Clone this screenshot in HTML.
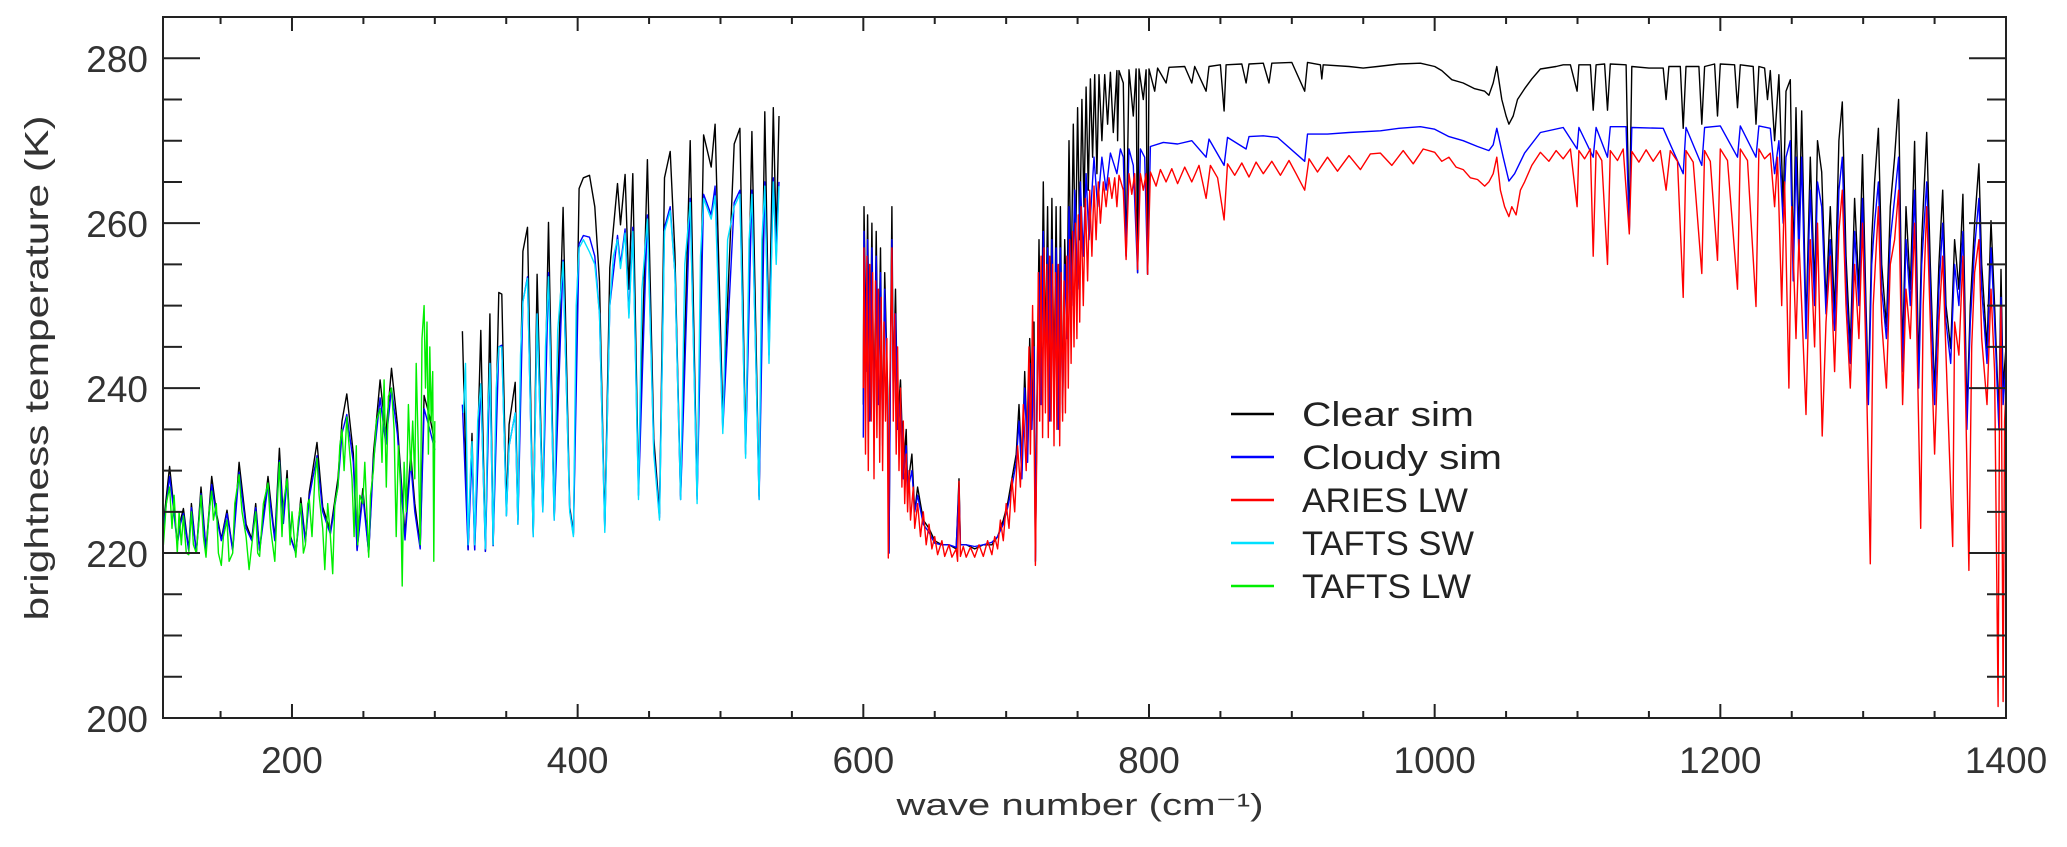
<!DOCTYPE html>
<html><head><meta charset="utf-8"><title>Brightness temperature spectra</title>
<style>
html,body{margin:0;padding:0;background:#fff;}
svg{display:block;font-family:"Liberation Sans",sans-serif;}
</style></head>
<body>
<svg id="chart" width="2067" height="847" viewBox="0 0 2067 847" xmlns="http://www.w3.org/2000/svg">
<rect x="0" y="0" width="2067" height="847" fill="#fff"/>
<g id="series"></g>
<g id="axes"></g>
<text x="1080" y="815" font-size="31" fill="#333" text-anchor="middle" textLength="367" lengthAdjust="spacingAndGlyphs">wave number (cm⁻¹)</text>
<text transform="translate(48,368) rotate(-90)" font-size="33" fill="#333" text-anchor="middle" textLength="505" lengthAdjust="spacingAndGlyphs">brightness temperature (K)</text>
<g id="legend"></g>
</svg>
<script>
const xTicksMajor = [200,400,600,800,1000,1200,1400];
const xTicksMinor = [150,250,300,350,450,500,550,650,700,750,850,900,950,1050,1100,1150,1250,1300,1350];
const yTicksMajor = [200,220,240,260,280];
const yTicksMinor = [205,210,215,225,230,235,245,250,255,265,270,275];
const legendLabels = ["Clear sim","Cloudy sim","ARIES LW","TAFTS SW","TAFTS LW"];
const legendColors = ["#000","#0000ff","#ff0000","#00e0ff","#00ee00"];

const clearSim = [[110,223.5],[114.3,230.5],[117,226],[119.7,221.3],[122,224],[124,225.4],[127.7,220.4],[129.6,226],[133,220],[136.3,228],[139.8,220.4],[143.8,229.3],[147,225],[150.5,221.7],[154.5,225.2],[158.5,220.4],[163,231],[167.9,223.5],[171.9,221.7],[174.6,226],[177.3,220.4],[183.2,229.3],[188,221.7],[191.2,232.7],[194,224],[196.6,230],[198.7,222.2],[202.7,220],[206.2,226.7],[209.4,221.5],[212.1,227.4],[217.5,233.4],[221.5,225.6],[226.9,222.6],[232.2,229.1],[235,236],[238.4,239.3],[242.9,232.1],[245.6,220.4],[249.6,227.8],[253.7,220],[257,232],[261.7,241],[265.7,234.3],[269.7,242.4],[273.8,235.6],[279.1,222.2],[283.1,232.1],[286,226],[289.8,220.9],[292.5,239.1],[296.5,236.5],[300,233.4],null,
[319.3,246.9],[323.3,220.4],[326,234.5],[327.9,220.4],[332.2,247],[335.4,220.2],[338.6,249],[340.8,220.9],[344.8,251.6],[346.9,251.4],[350.1,225.2],[352,235.6],[356.3,240.7],[358.2,224],[361.7,256.6],[364.9,259.5],[368.9,222.2],[371.6,253.8],[375.6,225.6],[379.6,260.1],[383.6,224.3],[389.8,261.9],[394.4,225.6],[397,222.4],[401,264.2],[404,265.5],[408.3,265.8],[412,262],[415.3,252.9],[419,223.1],[422.5,254.6],[427.9,264.8],[430,259.8],[433.2,265.9],[435.9,252],[438.6,266],[442.6,227.8],[448.8,267.7],[453.3,233.9],[457.3,224.8],[460.8,265.5],[464.8,268.7],[468.1,256.4],[472.1,226.9],[478.8,270],[483.6,226.9],[488.2,270.7],[493.5,266.8],[496.2,272],[501.6,236.5],[509.6,269.6],[513.6,271.5],[517.6,232.8],[522,271.1],[527,226.9],[531,273.5],[534,245],[537,274],[539,258],[541,273],null,
[600,238],[600.5,262],[602,245],[603,261],[604.5,238],[606,260],[607.5,236],[609,259],[610.5,240],[612,257],[613.5,234],[615,254],[617,240],[618,220],[619,245],[620,262],[621,240],[622.5,252],[624,236],[626,241],[628,230],[630,235],[631,228],[634,232],[636,225],[638,228],[642,224],[646,223],[650,221.5],[655,221],[660,221],[665,220.5],[667,229],[668,221],[672,221],[678,220.5],[684,221],[690,221],[694,222],[698,224],[701,226],[704,229],[707,232],[709,238],[711,230],[713,242],[715,232],[716.5,246],[718,236],[719.5,248],[720.5,219],[721.5,238],[723,258],[724.5,240],[726,265],[727.5,244],[729,262],[730.5,238],[732,263],[733.5,240],[735,262],[736.5,236],[738,262],[739.5,238],[741,258],[742.5,248],[744,270],[745.5,252],[747,272],[748.5,255],[750,274],[751.5,258],[753,275],[754.5,262],[756,276.5],[757.5,264],[759,277.5],[760.5,268],[762,278],[763.5,266],[765,278],[767,270],[769,278],[771,272],[773,278.3],[775,271],[777.5,278.5],[778,270],[779,278.5],[782,277],[784,256],[786,278.6],[789,273],[791,278.7],[792,254],[793,278.7],[796,275],[798,278.6],[799,253.8],[800,278.7],[804,276],[806,278.8],[812,277],[814,278.9],[825,279],[830,277],[832,279],[840,276],[842,279],[850,279.2],[852.6,273.6],[854,279.2],[865,279.3],[868,277],[870,279.3],[880,279.4],[884,277],[886,279.4],[900,279.5],[909,276],[911,279.5],[920,279.2],[921,277.5],[922,279.2],[940,279],[950,278.8],[960,279],[975,279.3],[990,279.4],[1000,279],[1005,278.5],[1012,277.4],[1020,277],[1028,276.3],[1035,276],[1038,275.5],[1041,277],[1043.5,279],[1047,275],[1050,273],[1052,272],[1055,273],[1058,275],[1063,276.3],[1068,277.5],[1074,278.7],[1085,279],[1090,279.2],[1095,279.2],[1099.7,276],[1101,279.2],[1109,279.2],[1111,273.7],[1113,279.2],[1119,279.3],[1121,273.7],[1123,279.3],[1134,279.2],[1136.3,259],[1138,279],[1150,278.8],[1160,278.8],[1162,275],[1164,279],[1172,279],[1174,271.5],[1176,279],[1185,279],[1187,272],[1189,279],[1196,279.3],[1198,273],[1200,279.3],[1210,279.2],[1212,274],[1214,279.2],[1223,279],[1225,272],[1227,279],[1231,278.8],[1233,275],[1235,278.5],[1238,270],[1241,278],[1244,262],[1246,276],[1249,277.4],[1251,255],[1253,274],[1255,258],[1257,273.6],[1260,247.5],[1263,268],[1266,252],[1268,270],[1271,266.2],[1274,250.2],[1277,262],[1280,249],[1283,270],[1285.4,274.7],[1288,256],[1291,244.8],[1294,263],[1297,252],[1299.5,268.3],[1302,250],[1303.7,239.5],[1306,258],[1308,265],[1310.7,271.5],[1313,255],[1316.3,247.5],[1319,262],[1322,268],[1324.8,275],[1327.6,243.8],[1330,262],[1333,252],[1336,269.9],[1338.8,242.2],[1341,258],[1344.5,271],[1347,255],[1350,239.5],[1353,255],[1355.7,264],[1358,250],[1361.3,244.8],[1364,258],[1367,252],[1369.8,263.5],[1372.6,236.8],[1375,250],[1378,260],[1381,267.2],[1383,255],[1386.7,244.8],[1389.5,260.3],[1392,250],[1395,236.3],[1396.5,254.4],[1398,240],[1400,245]];

const cloudySim = [[110,223],[114.3,229.3],[117,225.5],[119.7,221],[122,223.6],[124,224.8],[127.7,220.3],[129.6,225.5],[133,220],[136.3,227.2],[139.8,220.3],[143.8,228.3],[147,224.5],[150.5,221.5],[154.5,224.8],[158.5,220.3],[163,229.8],[167.9,223],[171.9,221.5],[174.6,225.5],[177.3,220.3],[183.2,228.3],[188,221.5],[191.2,231.2],[194,223.6],[196.6,229],[198.7,222],[202.7,220],[206.2,226],[209.4,221.3],[212.1,226.8],[217.5,231.8],[221.5,225],[226.9,222.3],[232.2,228.2],[235,234.5],[238.4,236.8],[242.9,231],[245.6,220.3],[249.6,227],[253.7,220],[257,231],[261.7,238.8],[265.7,233.2],[269.7,240],[273.8,234.4],[279.1,221.6],[283.1,231],[286,225],[289.8,220.5],[292.5,237.5],[296.5,235],[300,232.5],null,
[319.3,238],[323.3,220.4],[326,232],[327.9,220.4],[332.2,240.5],[335.4,220.2],[338.6,243],[340.8,220.9],[344.8,245],[346.9,245.2],[350.1,224.5],[352,233],[356.3,237],[358.2,223.5],[361.7,250.5],[364.9,253.5],[368.9,222],[371.6,249],[375.6,225],[379.6,254],[383.6,224],[389.8,255.5],[394.4,225.2],[397,222.2],[401,257.5],[404,258.5],[408.3,258.3],[412,256],[415.3,249],[419,222.8],[422.5,250],[427.9,258.5],[430,255],[433.2,259.3],[435.9,249],[438.6,259.5],[442.6,227],[448.8,261],[453.3,232.5],[457.3,224.3],[460.8,259.5],[464.8,262],[468.1,254],[472.1,226.5],[478.8,263],[483.6,226.5],[488.2,263.5],[493.5,261],[496.2,264.5],[501.6,235],[509.6,262.5],[513.6,264],[517.6,232],[522,264],[527,226.5],[531,265],[534,244],[537,265.5],[539,256],[541,265],null,
[600,234],[600.5,259],[602,242],[603,258],[604.5,236],[606,257],[607.5,234],[609,256],[610.5,238],[612,254],[613.5,233],[615,252],[617,238],[618,220],[619,243],[620,258],[621,238],[622.5,249],[624,235],[626,239],[628,229],[630,233],[631,227.5],[634,230],[636,225],[638,227],[642,223.5],[646,222.5],[650,221.2],[655,221],[660,221],[665,220.7],[667,228],[668,221],[672,221],[678,220.8],[684,221],[690,221.3],[694,222],[698,223.5],[701,225.5],[704,228],[707,231],[709,236],[711,229],[713,240],[715,231],[716.5,243],[718,235],[719.5,245],[720.5,219],[721.5,237],[723,254],[724.5,238],[726,259],[727.5,242],[729,257],[730.5,236],[732,258],[733.5,238],[735,257],[736.5,235],[738,257],[739.5,237],[741,255],[742.5,246],[744,262],[746,250],[748,264],[750,252],[752,265],[754,256],[756,266],[758,258],[761.5,268],[764,262],[767,268],[770,264],[773,268.5],[777.5,266],[780,269],[782,268],[784,256],[786,269],[789,267],[792,254],[794,269],[797,268],[799,253.8],[801,269.3],[810,269.8],[820,269.6],[830,270],[840,268],[842,270.2],[852.6,267],[855,270.4],[868,269],[870,270.5],[880,270.6],[890,270.4],[909,267.5],[911,270.8],[925,270.8],[940,271],[962,271.2],[975,271.5],[990,271.7],[1000,271.4],[1010,270.5],[1020,270],[1030,269.3],[1038,268.8],[1041,269.5],[1043.5,271.5],[1048,268],[1052,265.1],[1056,266],[1063,268.5],[1074,271],[1090,271.6],[1099.7,269],[1101,271.6],[1111,268],[1113,271.6],[1121,268],[1123,271.7],[1134,271.7],[1136.3,259],[1138,271.6],[1160,271.5],[1174,266],[1176,271.6],[1187,267],[1189,271.6],[1200,271.8],[1212,268],[1214,271.8],[1225,268],[1227,271.8],[1235,271.5],[1238,266],[1241,270],[1244,260],[1246,268],[1249,270],[1251,253],[1253,268],[1255,256],[1257,268],[1260,246],[1263,264],[1266,250],[1268,265],[1271,262],[1274,249],[1277,258],[1280,247],[1283,264],[1285.4,268],[1288,253],[1291,243],[1294,259],[1297,250],[1299.5,263],[1302,248],[1303.7,238],[1306,255],[1308,260],[1310.7,265],[1313,252],[1316.3,246],[1319,258],[1322,263],[1324.8,268],[1327.6,242],[1330,258],[1333,250],[1336,264],[1338.8,240],[1341,255],[1344.5,265],[1347,252],[1350,238],[1353,252],[1355.7,260],[1358,248],[1361.3,243],[1364,255],[1367,250],[1369.8,259],[1372.6,235],[1375,248],[1378,257],[1381,263],[1383,252],[1386.7,243],[1389.5,257],[1392,248],[1395,235],[1396.5,251],[1398,238],[1400,243]];

const ariesLW = [[600,240],[600.5,257],[601.5,232],[602.5,256],[603.5,230],[604.5,255],[605.5,236],[606.5,254],[607.5,229],[608.5,253],[609.5,234],[610.5,252],[611.5,231],[612.5,251],[613.5,230],[614.5,248],[615.5,236],[616.5,246],[617.5,219.4],[618.5,240],[619.5,250],[620,257],[621,236],[622,249],[623,232],[624,245],[625,230],[626,240],[627,228],[628,236],[629,226],[630,232],[631,225],[632,230],[633,224],[635,228],[636,223],[638,226],[640,222],[642,225],[644,221],[646,223.5],[648,220.5],[650,222],[652,219.8],[655,221.5],[657,219.6],[660,221],[662,219.5],[665,220.5],[666,219],[667,228.7],[668,219.6],[670,220.8],[672,219.5],[675,220.7],[678,219.5],[681,221],[684,219.6],[687,221.5],[690,219.8],[692,222],[694,220.5],[696,224],[698,221.5],[700,226],[702,223],[704,229],[706,225],[708,233],[710,228],[712,238],[714,230],[716,245],[717,232],[718.5,250],[719.5,236],[720.5,218.5],[721.5,234],[722.5,254],[723.5,236],[724.5,256],[725.5,234],[726.5,257],[727.5,237],[728.5,255],[729.5,234],[730.5,256],[731.5,236],[732.5,255],[733.5,233],[734.5,254],[735.5,235],[736.5,255],[737.5,233],[738.5,254],[739.5,236],[740.5,253],[741.5,237],[742.5,256],[743.5,240],[744.5,258],[745.5,243],[746.5,259],[747.5,245],[748.5,260],[749.5,246],[750.5,261],[751.5,248],[752.5,262],[754,250],[755.5,263],[757,253],[758.5,264],[760,256],[761.5,264.5],[763,258],[764.5,265],[766,260],[768,265],[770,262],[772,265.5],[774,263],[776,265.5],[777.5,262],[779,265.8],[782,264],[784,255.6],[786,266],[788,263.5],[790,266],[792,254.4],[794,266],[796,264],[798,266],[799,253.8],[801,266.2],[805,264.5],[808,266.5],[812,265],[816,266.6],[820,264.8],[825,266.8],[830,265],[835,267],[840,263],[843,267],[848,265.5],[852.6,260.4],[855,267.2],[860,265.8],[865,267.3],[870,265.6],[875,267.4],[880,266],[886,267.5],[892,265.8],[898,267.6],[903,266],[909,264],[912,267.8],[918,266.2],[925,268],[932,266.3],[940,268.2],[948,266.5],[955,268.4],[962,268.5],[970,267],[978,268.8],[985,267.2],[992,269],[1000,268.6],[1005,267.5],[1010,268],[1015,266.8],[1020,266.5],[1025,265.5],[1030,265.3],[1035,264.5],[1038,265],[1041,266],[1043.5,268],[1046,264],[1049,262],[1052,260.8],[1054,262],[1057,261],[1060,264],[1063,265],[1068,267],[1074,268.6],[1080,267.5],[1085,268.8],[1090,267.8],[1095,269],[1099.7,262],[1101,268.8],[1105,267.8],[1109,269],[1111,256],[1113,268.8],[1117,267.6],[1121,255],[1123,268.8],[1128,267.6],[1132,269],[1136.3,258.7],[1138,268.7],[1143,267.4],[1148,268.9],[1153,267.5],[1158,268.8],[1162,264],[1165,268.8],[1170,267.5],[1174,251],[1176,268.8],[1181,267.4],[1187,253.9],[1189,268.8],[1193,267.5],[1198,255.5],[1200,269],[1205,267.6],[1212,252],[1214,269],[1219,267.6],[1225,249.9],[1227,269],[1231,267.8],[1235,268.5],[1238,262],[1240,268],[1243,250],[1245,265],[1248,240],[1250,262],[1253,246],[1255,258],[1257,250],[1260,236.8],[1263,258],[1266,245],[1268,260],[1271.3,234.2],[1274,248],[1277,256],[1280,242],[1283,259],[1285.4,264],[1288,250],[1291,240],[1294,255],[1297,246],[1299.5,260],[1302,244],[1305,218.7],[1307,250],[1310.7,262],[1313,248],[1316.3,240],[1319,255],[1322,258],[1324.8,264],[1327.6,238],[1330,252],[1333,246],[1336,260],[1340.3,223],[1342,250],[1344.5,262],[1347,248],[1350,232],[1353,248],[1355.7,256],[1358,244],[1362.7,220.8],[1364,248],[1367,244],[1369.8,256],[1374,217.9],[1376,245],[1378,254],[1381,258],[1383,246],[1386.7,238],[1389.5,252],[1392,242],[1394.5,201.4],[1395.5,240],[1396.5,250],[1398,202],[1399,236],[1400,240]];

const taftsSW = [[320,237],[321.5,243],[323.3,221],[325,230],[326,233.5],[327.9,221],[330,236],[332.2,240.5],[335.4,220.5],[337,236],[338.6,243],[340.8,221],[343,240],[344.8,245],[346.9,245],[350.1,224.5],[352,233],[356.3,237],[358.2,223.5],[360,244],[361.7,250.5],[364.9,253.3],[368.9,222],[371.6,249],[375.6,225],[377.5,245],[379.6,253.5],[383.6,224],[386,247],[389.8,255.3],[394.4,225],[397,222],[399,250],[401,257],[404,258],[408.3,256.5],[412,255],[415.3,249],[419,222.5],[422.5,250],[425,256],[427.9,258],[430,254.5],[433.2,258.8],[435.9,248.5],[438.6,259],[442.6,226.5],[445,252],[448.8,260.5],[453.3,232],[457.3,224],[460.8,259],[464.8,261.5],[468.1,254],[472.1,226.5],[475,255],[478.8,262.5],[483.6,226],[486,256],[488.2,263],[493.5,260.5],[496.2,263.3],[501.6,234.5],[505,258],[509.6,262],[513.6,263.5],[517.6,231.5],[520,258],[522,263.5],[527,226.5],[529,258],[531,264.5],[534,243],[537,265],[539,255],[541,264.5]];

const taftsLW = [[110,221],[112,226],[114.3,228],[116,223],[117.5,227],[119.7,220],[121,225],[122.5,221],[124,224.5],[126,220],[127.7,219.8],[129.6,225],[131,221],[133,220],[135,224],[136.3,227],[138,222],[139.8,219.5],[142,225],[143.8,227.5],[145,224],[147,226],[148.5,220],[150.5,218.5],[152,222],[154.5,224],[156,219],[158.5,220],[160,226],[163,229.5],[165,225],[167.9,222],[170,218],[171.9,221],[174.6,225],[176,220],[177.3,219.6],[180,226],[183.2,228.5],[185,223],[188,219],[190,227],[191.2,231],[193,222],[194,226],[196.6,229],[198.7,221],[200,225],[202.7,219.5],[204.5,224],[206.2,226],[208,220],[209.4,221],[211,226],[212.1,226.5],[214,222],[216,229],[217.5,231.5],[219,227],[221.5,223],[223,218],[225,226],[226.9,222],[228.5,217.5],[230,226],[232.2,228],[233.5,233],[235,235],[236.5,230],[238.4,236.5],[240,233],[242,229],[243.5,222],[245,233],[246,221],[247.5,227],[249.6,226],[251,231],[253.7,219.5],[255,227],[257,230],[259,236],[261.7,237.5],[263,231],[264.5,241],[266,228],[267.5,239],[269.7,240],[271.5,235],[273,222],[274.5,233],[276,228],[277.2,216],[278.5,231],[280,225],[281.5,238],[283.1,230],[284.5,236],[286,229],[287,243],[288.5,232],[289.8,221],[291,246],[292.5,250],[293.5,240],[294.5,248],[295.5,232],[296.5,245],[297.5,236],[298.5,242],[299.3,219],[300,236]];

const X0 = 163, X1 = 2006, Y0 = 17, Y1 = 718;
const xMin = 109.7, xMax = 1400, yMin = 200, yMax = 285;
function xScale(v){ return X0 + (v - xMin) / (xMax - xMin) * (X1 - X0); }
function yScale(v){ return Y1 - (v - yMin) / (yMax - yMin) * (Y1 - Y0); }
const NS = "http://www.w3.org/2000/svg";
function mk(tag, attrs){ const e = document.createElementNS(NS, tag); for (const k in attrs) e.setAttribute(k, attrs[k]); return e; }

function pathFrom(data){
  let d = "", pen = false;
  for (const p of data){
    if (p === null){ pen = false; continue; }
    d += (pen ? "L" : "M") + xScale(p[0]).toFixed(1) + " " + yScale(p[1]).toFixed(1);
    pen = true;
  }
  return d;
}
const seriesG = document.getElementById("series");
const seriesList = [[clearSim,"#000","clear-sim-line"],[cloudySim,"#0000ff","cloudy-sim-line"],[ariesLW,"#ff0000","aries-lw-line"],[taftsSW,"#00e0ff","tafts-sw-line"],[taftsLW,"#00ee00","tafts-lw-line"]];
for (const s of seriesList){
  const p = mk("path", {d: pathFrom(s[0]), fill: "none", stroke: s[1], "stroke-width": "1.4", "stroke-linejoin": "round"});
  
  
  seriesG.appendChild(p);
}

const axesG = document.getElementById("axes");
const frame = mk("rect", {x: X0, y: Y0, width: X1 - X0, height: Y1 - Y0, fill: "none", stroke: "#222", "stroke-width": "2"});


axesG.appendChild(frame);

function tick(x1,y1,x2,y2,name){
  const l = mk("line", {x1:x1, y1:y1, x2:x2, y2:y2, stroke:"#222", "stroke-width":"2"});
  
  
  axesG.appendChild(l);
}
for (const v of xTicksMajor){
  const x = xScale(v);
  tick(x, Y1, x, Y1 - 14, 'x-major-tick');
  tick(x, Y0, x, Y0 + 14, 'x-major-tick-top');
  const t = mk("text", {x: x, y: 773, "font-size": "37", fill: "#333", "text-anchor": "middle"});
  t.textContent = String(v);
  
  
  axesG.appendChild(t);
}
for (const v of xTicksMinor){
  const x = xScale(v);
  tick(x, Y1, x, Y1 - 7, 'x-minor-tick');
  tick(x, Y0, x, Y0 + 7, 'x-minor-tick-top');
}
for (const v of yTicksMajor){
  const y = yScale(v);
  tick(X0, y, X0 + 37, y, 'y-major-tick');
  tick(X1, y, X1 - 37, y, 'y-major-tick-right');
  const t = mk("text", {x: 148, y: y + 14, "font-size": "37", fill: "#333", "text-anchor": "end"});
  t.textContent = String(v);
  
  
  axesG.appendChild(t);
}
for (const v of yTicksMinor){
  const y = yScale(v);
  tick(X0, y, X0 + 19, y, 'y-minor-tick');
  tick(X1, y, X1 - 19, y, 'y-minor-tick-right');
}

const legG = document.getElementById("legend");
const legendWidths = [172,200,166,172,169];
for (let i = 0; i < legendLabels.length; i++){
  const y = 414 + i * 43;
  const l = mk("line", {x1: 1231, y1: y, x2: 1274, y2: y, stroke: legendColors[i], "stroke-width": "2.5"});
  
  
  legG.appendChild(l);
  const t = mk("text", {x: 1302, y: y + 12, "font-size": "34", fill: "#222", textLength: legendWidths[i], lengthAdjust: "spacingAndGlyphs"});
  t.textContent = legendLabels[i];
  
  
  legG.appendChild(t);
}
</script>
</body></html>
